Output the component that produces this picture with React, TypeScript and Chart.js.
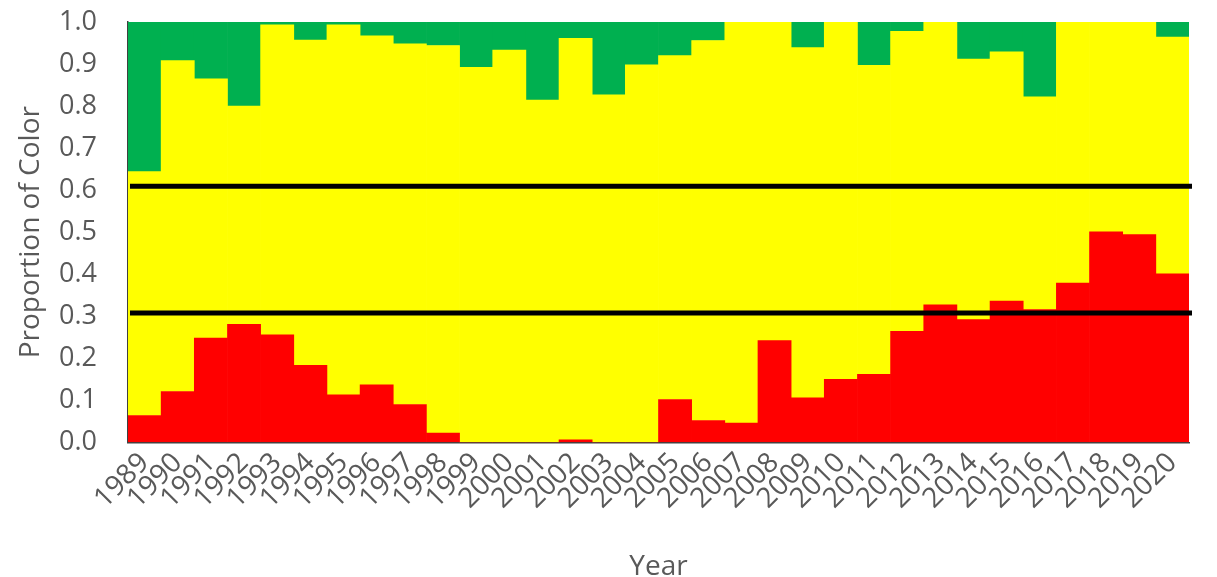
import React, { useEffect, useRef } from "react";
import { Chart, registerables } from "chart.js";

Chart.register(...registerables);

const YEARS = [
  "1989", "1990", "1991", "1992", "1993", "1994", "1995", "1996", "1997", "1998",
  "1999", "2000", "2001", "2002", "2003", "2004", "2005", "2006", "2007", "2008",
  "2009", "2010", "2011", "2012", "2013", "2014", "2015", "2016", "2017", "2018",
  "2019", "2020",
];

const RED = [
  0.064, 0.121, 0.248, 0.281, 0.256, 0.183, 0.113, 0.137, 0.09, 0.022,
  0, 0, 0, 0.006, 0, 0, 0.102, 0.052, 0.046, 0.242,
  0.106, 0.15, 0.162, 0.264, 0.327, 0.292, 0.336, 0.316, 0.379, 0.501,
  0.494, 0.401,
];

const YELLOW = [
  0.58, 0.787, 0.617, 0.519, 0.737, 0.774, 0.88, 0.83, 0.858, 0.922,
  0.892, 0.933, 0.814, 0.955, 0.827, 0.898, 0.818, 0.904, 0.954, 0.758,
  0.833, 0.85, 0.735, 0.714, 0.673, 0.62, 0.593, 0.506, 0.621, 0.499,
  0.506, 0.563,
];

const GREEN = [
  0.356, 0.092, 0.135, 0.2, 0.007, 0.043, 0.007, 0.033, 0.052, 0.056,
  0.108, 0.067, 0.186, 0.039, 0.173, 0.102, 0.08, 0.044, 0, 0,
  0.061, 0, 0.103, 0.022, 0, 0.088, 0.071, 0.178, 0, 0,
  0, 0.036,
];

const THRESHOLDS = [0.609, 0.308];

const FONT = "'Open Sans', 'Noto Sans', sans-serif";
const TEXT = "#595959";

const thresholdPlugin = {
  id: "thresholdLines",
  afterDatasetsDraw(chart: any) {
    const { ctx, chartArea, scales } = chart;
    ctx.save();
    ctx.strokeStyle = "#000000";
    ctx.lineWidth = 5;
    THRESHOLDS.forEach((v) => {
      const y = scales.y.getPixelForValue(v);
      ctx.beginPath();
      ctx.moveTo(chartArea.left + 2, y);
      ctx.lineTo(chartArea.right + 3, y);
      ctx.stroke();
    });
    ctx.restore();
  },
};

export default function App() {
  const ref = useRef<HTMLCanvasElement | null>(null);

  useEffect(() => {
    if (!ref.current) return;
    const chart = new Chart(ref.current, {
      type: "bar",
      data: {
        labels: YEARS,
        datasets: [
          { label: "Red", data: RED, backgroundColor: "#FF0000", borderWidth: 0 },
          { label: "Yellow", data: YELLOW, backgroundColor: "#FFFF00", borderWidth: 0 },
          { label: "Green", data: GREEN, backgroundColor: "#00B050", borderWidth: 0 },
        ],
      },
      options: {
        animation: false,
        responsive: false,
        maintainAspectRatio: false,
        datasets: { bar: { categoryPercentage: 1, barPercentage: 1 } },
        layout: { padding: { left: 14, right: 28, top: 22, bottom: 0 } },
        plugins: {
          legend: { display: false },
          tooltip: { enabled: false },
        },
        scales: {
          x: {
            stacked: true,
            grid: { display: false, drawTicks: false },
            border: { display: true, color: "#404040", width: 1.5 },
            ticks: {
              color: TEXT,
              font: { family: FONT, size: 28 },
              maxRotation: 45,
              minRotation: 45,
              autoSkip: false,
              padding: 4,
            },
            title: {
              display: true,
              text: "Year",
              color: TEXT,
              font: { family: FONT, size: 28, lineHeight: 0.7 },
              padding: { top: 38, bottom: 0 },
            },
          },
          y: {
            stacked: true,
            min: 0,
            max: 1,
            afterFit: (scale: any) => {
              scale.width = 114;
            },
            grid: {
              display: true,
              drawOnChartArea: false,
              color: "rgba(0,0,0,0)",
              drawTicks: true,
              tickLength: 27,
            },
            border: { display: true, color: "#404040", width: 1.5 },
            ticks: {
              stepSize: 0.1,
              color: TEXT,
              font: { family: FONT, size: 27 },
              padding: 4,
              callback: (v: any) => Number(v).toFixed(1),
            },
            title: {
              display: true,
              text: "Proportion of Color",
              color: TEXT,
              font: { family: FONT, size: 28 },
              padding: { top: 0, bottom: 10 },
            },
          },
        },
      },
      plugins: [thresholdPlugin],
    });
    return () => chart.destroy();
  }, []);

  return (
    <div style={{ position: "absolute", left: 0, top: 0, width: 1217, height: 577, background: "#fff" }}>
      <canvas ref={ref} width={1217} height={577} style={{ width: 1217, height: 577 }} />
    </div>
  );
}
